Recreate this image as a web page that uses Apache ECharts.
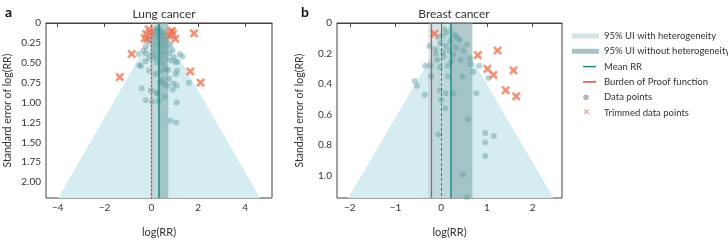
<!DOCTYPE html>
<html lang="en" style="height: 100%">
<head>
<meta charset="utf-8">
<title>Funnel plots</title>
</head>
<body style="height: 100%; margin: 0; background: #fff">
<div id="container" style="width: 728px; height: 243px"></div>
<script type="text/javascript" src="https://cdn.jsdelivr.net/npm/echarts/dist/echarts.min.js"></script>
<script type="text/javascript">

var dom = document.getElementById('container');
var myChart = echarts.init(dom, null, { renderer: 'canvas' });

var FONT = 'Lato';

// Panel a: lung cancer
var lungMean = 0.33;
var lungBop = 0.0;
var lungSeMax = 2.2;
var lungBandWith = [0.0, 0.72];
var lungBandWithout = [0.28, 0.72];
var lungXTicks = [-4, -2, 0, 2, 4];
var lungYTicks = [0, 0.25, 0.5, 0.75, 1.0, 1.25, 1.5, 1.75, 2.0];
var lungPoints = [
    [0.25, 0.06], [0.30, 0.08], [0.18, 0.09], [0.40, 0.10], [0.05, 0.11], [0.55, 0.12], [0.22, 0.13],
    [0.35, 0.14], [0.12, 0.15], [0.48, 0.16], [0.62, 0.17], [-0.05, 0.18], [0.28, 0.19], [0.70, 0.20],
    [0.15, 0.21], [0.42, 0.22], [-0.15, 0.23], [0.58, 0.24], [0.32, 0.25], [0.05, 0.26], [0.80, 0.27],
    [0.22, 0.28], [0.50, 0.29], [-0.25, 0.30], [0.65, 0.31], [0.38, 0.32], [0.10, 0.33], [0.90, 0.34],
    [-0.35, 0.35], [0.28, 0.36], [0.55, 0.37], [0.75, 0.38], [0.02, 0.39], [0.45, 0.40], [0.18, 0.41],
    [0.95, 0.43], [-0.10, 0.44], [0.62, 0.45], [0.35, 0.46], [0.85, 0.47], [0.25, 0.50], [0.50, 0.52],
    [-0.55, 0.39], [-0.24, 0.38], [-0.26, 0.48], [-0.51, 0.53], [-0.45, 0.54], [-0.10, 0.60], [0.11, 0.44],
    [0.18, 0.64], [0.40, 0.60], [0.61, 0.58], [0.71, 0.59], [1.04, 0.49], [1.10, 0.49], [1.22, 0.39],
    [1.32, 0.42], [1.04, 0.64], [1.10, 0.60], [0.94, 0.76], [0.75, 0.70], [0.54, 0.77], [0.47, 0.72],
    [0.35, 0.75], [1.60, 0.75], [1.08, 0.79], [0.91, 0.84], [0.68, 0.79], [0.57, 0.93], [0.26, 0.89],
    [0.21, 0.87], [-0.03, 0.85], [-0.41, 0.82], [-0.24, 0.97], [0.03, 0.99], [0.30, 0.98], [1.08, 1.00],
    [0.82, 1.23], [1.06, 1.25]
];
var lungTrimmed = [
    [1.82, 0.13], [0.82, 0.11], [0.92, 0.14], [1.02, 0.20], [0.78, 0.16], [0.88, 0.10], [-0.12, 0.08],
    [-0.22, 0.14], [-0.28, 0.19], [-0.18, 0.20], [-0.05, 0.12], [-0.84, 0.39], [-1.35, 0.68],
    [1.66, 0.61], [2.10, 0.75]
];

// Panel b: breast cancer
var breastMean = 0.21;
var breastBop = -0.23;
var breastSeMax = 1.145;
var breastBandWith = [-0.28, 0.68];
var breastBandWithout = [0.21, 0.68];
var breastXTicks = [-2, -1, 0, 1, 2];
var breastYTicks = [0, 0.2, 0.4, 0.6, 0.8, 1.0];
var breastPoints = [
    [-0.58, 0.38], [-0.53, 0.41], [-0.36, 0.47], [-0.35, 0.28], [-0.23, 0.28], [-0.22, 0.35], [-0.26, 0.15],
    [-0.14, 0.17], [-0.09, 0.24], [-0.03, 0.29], [-0.03, 0.44], [0.00, 0.50], [0.09, 0.56], [-0.06, 0.73],
    [0.10, 0.46], [0.26, 0.46], [0.15, 0.35], [0.15, 0.28], [0.06, 0.04], [0.03, 0.08], [-0.07, 0.09],
    [0.12, 0.06], [0.35, 0.10], [0.41, 0.11], [0.56, 0.14], [0.42, 0.24], [0.46, 0.35], [0.63, 0.23],
    [0.64, 0.27], [0.70, 0.32], [0.83, 0.28], [0.77, 0.46], [1.03, 0.36], [0.58, 0.63], [0.96, 0.72],
    [1.15, 0.74], [0.96, 0.78], [0.96, 0.87], [0.47, 0.99], [0.56, 1.14], [0.04, 0.19], [0.26, 0.21],
    [0.32, 0.16], [0.10, 0.15], [0.20, 0.12], [-0.02, 0.13], [0.18, 0.18], [0.05, 0.22], [0.30, 0.08],
    [0.48, 0.18], [0.22, 0.25], [-0.12, 0.20]
];
var breastTrimmed = [
    [-0.15, 0.07], [0.80, 0.21], [1.23, 0.18], [1.01, 0.30], [1.14, 0.34], [1.58, 0.31], [1.41, 0.44],
    [1.64, 0.48]
];

var C_FUNNEL = '#d5edf1';
var C_BAND_WITH = 'rgba(150,185,186,0.38)';
var C_BAND_WITHOUT = 'rgba(110,155,157,0.34)';
var C_POINT = 'rgba(95,155,158,0.55)';
var C_TRIM = 'rgba(226,95,65,0.88)';
var C_MEAN = '#1e8b84';
var C_BOP = '#e2463f';
var X_PATH = 'path://M1.5,0 L5,3 L8.5,0 L10,1.5 L7,5 L10,8.5 L8.5,10 L5,7 L1.5,10 L0,8.5 L3,5 L0,1.5 Z';

function minusFmt(v) {
    return String(v).replace('-', '\u2212');
}

function funnelSeries(idx, mean, seMax) {
    return {
        type: 'custom',
        xAxisIndex: idx,
        yAxisIndex: idx,
        z: 1,
        silent: true,
        data: [[mean, seMax]],
        renderItem: function (params, api) {
            var m = api.value(0), s = api.value(1);
            var pts = [api.coord([m, 0]), api.coord([m - 1.96 * s, s]), api.coord([m + 1.96 * s, s])];
            return { type: 'polygon', shape: { points: pts }, style: { fill: C_FUNNEL } };
        }
    };
}

function bandSeries(idx, band, color, z) {
    return {
        type: 'custom',
        xAxisIndex: idx,
        yAxisIndex: idx,
        z: z,
        silent: true,
        data: [band],
        renderItem: function (params, api) {
            var cs = params.coordSys;
            var x0 = api.coord([api.value(0), 0])[0];
            var x1 = api.coord([api.value(1), 0])[0];
            return { type: 'rect', shape: { x: x0, y: cs.y, width: x1 - x0, height: cs.height }, style: { fill: color } };
        }
    };
}

function scatterSeries(idx, data, lines) {
    return {
        type: 'scatter',
        xAxisIndex: idx,
        yAxisIndex: idx,
        z: 4,
        symbolSize: 6,
        itemStyle: { color: C_POINT },
        data: data,
        markLine: {
            silent: true,
            symbol: ['none', 'none'],
            label: { show: false },
            z: 6,
            data: lines
        }
    };
}

function trimmedSeries(idx, data) {
    return {
        type: 'scatter',
        xAxisIndex: idx,
        yAxisIndex: idx,
        z: 5,
        symbol: X_PATH,
        symbolSize: 8,
        itemStyle: { color: C_TRIM, borderColor: 'rgba(240,150,120,0.7)', borderWidth: 1.2 },
        data: data
    };
}

function xAxisCfg(idx, min, max, ticks) {
    return {
        type: 'value', gridIndex: idx, min: min, max: max,
        name: 'log(RR)', nameLocation: 'middle', nameGap: 29,
        nameTextStyle: { fontFamily: FONT, fontSize: 11, color: '#333' },
        axisLine: { show: true, lineStyle: { color: '#444', width: 1 } },
        axisTick: { show: true, length: 4, customValues: ticks, lineStyle: { color: '#444' } },
        axisLabel: { customValues: ticks, formatter: minusFmt, fontFamily: FONT, fontSize: 10, color: '#333', margin: 5 },
        splitLine: { show: false }
    };
}

function yAxisCfg(idx, max, ticks, dec, gap) {
    return {
        type: 'value', gridIndex: idx, min: 0, max: max, inverse: true,
        name: 'Standard error of log(RR)', nameLocation: 'middle', nameGap: gap,
        nameTextStyle: { fontFamily: FONT, fontSize: 10.5, color: '#333' },
        axisLine: { show: true, lineStyle: { color: '#444', width: 1 } },
        axisTick: { show: true, length: 4, customValues: ticks, lineStyle: { color: '#444' } },
        axisLabel: {
            customValues: ticks, fontFamily: FONT, fontSize: 10, color: '#333', margin: 5,
            formatter: function (v) { return v === 0 ? '0' : v.toFixed(dec); }
        },
        splitLine: { show: false }
    };
}

var legendRows = [
    { label: '95% UI with heterogeneity', kind: 'band', color: '#d3e3e4' },
    { label: '95% UI without heterogeneity', kind: 'band', color: '#a6c4c5' },
    { label: 'Mean RR', kind: 'line', color: C_MEAN },
    { label: 'Burden of Proof function', kind: 'line', color: C_BOP },
    { label: 'Data points', kind: 'dot', color: '#b5b5b5' },
    { label: 'Trimmed data points', kind: 'cross', color: '#f08a62' }
];

var legendGraphics = [];
legendRows.forEach(function (r, i) {
    var y = 36 + i * 15.3;
    if (r.kind === 'band') {
        legendGraphics.push({ type: 'rect', shape: { x: 572, y: y - 2.5, width: 27, height: 5 }, style: { fill: r.color } });
    } else if (r.kind === 'line') {
        legendGraphics.push({ type: 'line', shape: { x1: 583, y1: y, x2: 596, y2: y }, style: { stroke: r.color, lineWidth: 1.5 } });
    } else if (r.kind === 'dot') {
        legendGraphics.push({ type: 'circle', shape: { cx: 586, cy: y, r: 2.8 }, style: { fill: r.color } });
    } else {
        legendGraphics.push({ type: 'text', x: 586.5, y: y, style: { text: '\u2715', fill: r.color, font: 'bold 9px DejaVu Sans', align: 'center', verticalAlign: 'middle' } });
    }
    legendGraphics.push({
        type: 'text', x: 604, y: y,
        style: { text: r.label, fill: '#333', font: '9.5px ' + FONT, verticalAlign: 'middle' }
    });
});

var option = {
    animation: false,
    title: [
        { text: 'Lung cancer', left: 159, top: 3, textAlign: 'center', textStyle: { fontFamily: FONT, fontSize: 12, fontWeight: 'normal', color: '#333' } },
        { text: 'Breast cancer', left: 449, top: 3, textAlign: 'center', textStyle: { fontFamily: FONT, fontSize: 12, fontWeight: 'normal', color: '#333' } },
        { text: 'a', left: 0, top: 0, textStyle: { fontFamily: FONT, fontSize: 14, fontWeight: 'bold', color: '#111' } },
        { text: 'b', left: 296, top: 0, textStyle: { fontFamily: FONT, fontSize: 14, fontWeight: 'bold', color: '#111' } }
    ],
    grid: [
        { left: 46, top: 23, width: 226, height: 186, show: true, borderColor: '#444', borderWidth: 1, backgroundColor: 'transparent' },
        { left: 337, top: 23, width: 225, height: 186, show: true, borderColor: '#444', borderWidth: 1, backgroundColor: 'transparent' }
    ],
    xAxis: [
        xAxisCfg(0, -4.5, 5.15, lungXTicks),
        xAxisCfg(1, -2.28, 2.64, breastXTicks)
    ],
    yAxis: [
        yAxisCfg(0, lungSeMax, lungYTicks, 2, 33),
        yAxisCfg(1, breastSeMax, breastYTicks, 1, 32)
    ],
    graphic: legendGraphics,
    series: [
        funnelSeries(0, lungMean, lungSeMax),
        bandSeries(0, lungBandWith, C_BAND_WITH, 2),
        bandSeries(0, lungBandWithout, C_BAND_WITHOUT, 3),
        scatterSeries(0, lungPoints, [
            { xAxis: lungBop, lineStyle: { color: C_BOP, width: 1.2, type: 'solid' } },
            { xAxis: 0, lineStyle: { color: '#aaa', width: 1, type: [2, 2] } },
            { xAxis: lungMean, lineStyle: { color: C_MEAN, width: 1.5, type: 'solid' } }
        ]),
        trimmedSeries(0, lungTrimmed),
        funnelSeries(1, breastMean, breastSeMax),
        bandSeries(1, breastBandWith, C_BAND_WITH, 2),
        bandSeries(1, breastBandWithout, C_BAND_WITHOUT, 3),
        scatterSeries(1, breastPoints, [
            { xAxis: breastBop, lineStyle: { color: C_BOP, width: 1.2, type: 'solid' } },
            { xAxis: 0, lineStyle: { color: '#666', width: 1, type: [3, 2] } },
            { xAxis: breastMean, lineStyle: { color: C_MEAN, width: 1.5, type: 'solid' } }
        ]),
        trimmedSeries(1, breastTrimmed)
    ]
};

if (option && typeof option === 'object') {
    myChart.setOption(option);
}

window.addEventListener('resize', myChart.resize);
</script>
</body>
</html>
